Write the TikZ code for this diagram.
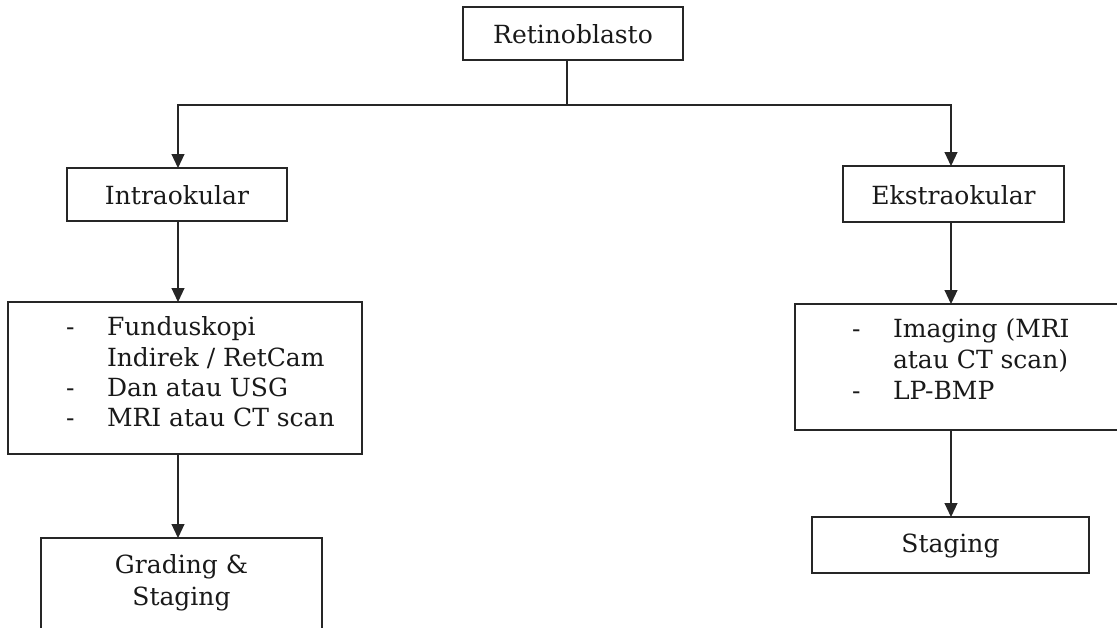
\documentclass[tikz,border=0pt]{standalone}
\usepackage{fontspec}
\setmainfont{DejaVu Serif}
\usetikzlibrary{arrows.meta}
\begin{document}
\begin{tikzpicture}[x=1pt,y=-1pt,
  every node/.style={font=\fontsize{25pt}{30.5pt}\selectfont, inner sep=0pt, outer sep=0pt, text=black!90},
  box/.style={draw=black!85, line width=1.1pt, text height=20pt, text depth=0pt},
  conn/.style={draw=black!85, line width=1.1pt},
  arr/.style={conn, -{Triangle[width=13pt,length=14pt]}}]
\useasboundingbox (0,0) rectangle (1117,627);
\clip (0,0) rectangle (1117,627);
% boxes
\node[box, minimum width=220pt, minimum height=53pt] (ret) at (573,33.5) {Retinoblasto};
\node[box, minimum width=220pt, minimum height=53pt] (intra) at (177,194.5) {Intraokular};
\node[box, minimum width=221pt, minimum height=56pt] (ekstra) at (953.5,194) {Ekstraokular};
\node[box, minimum width=354pt, minimum height=152pt] (list1) at (185,378) {};
\node[box, minimum width=345pt, minimum height=126pt] (list2) at (967.5,367) {};
\node[box, minimum width=281pt, minimum height=162pt] (grad) at (181.5,619) {};
\node[box, minimum width=277pt, minimum height=56pt, text height=15pt] (stag) at (950.5,545) {Staging};
% list texts left
\node[anchor=base west] (d1) at (66,335) {-};
\node[anchor=base west] (t1) at (107,335) {Funduskopi};
\node[anchor=base west] (t2) at (107,366) {Indirek / RetCam};
\node[anchor=base west] (d3) at (66,396) {-};
\node[anchor=base west] (t3) at (107,396) {Dan atau USG};
\node[anchor=base west] (d4) at (66,426) {-};
\node[anchor=base west] (t4) at (107,426) {MRI atau CT scan};
% list texts right
\node[anchor=base west] (d5) at (852,337) {-};
\node[anchor=base west] (u1) at (893,337) {Imaging (MRI};
\node[anchor=base west] (u2) at (893,368) {atau CT scan)};
\node[anchor=base west] (d6) at (852,399) {-};
\node[anchor=base west] (u3) at (893,399) {LP-BMP};
% grading text
\node[anchor=base] (g1) at (181.5,573) {Grading \&};
\node[anchor=base] (g2) at (181.5,605) {Staging};
% connectors
\coordinate (j) at (567,105);
\coordinate (jl) at (178,105);
\coordinate (jr) at (951,105);
\draw[conn] (ret.south -| j) -- (j);
\draw[arr] (j) -- (jl) -- (jl |- intra.north);
\draw[arr] (j) -- (jr) -- (jr |- ekstra.north);
\draw[arr] (intra.south -| jl) -- (jl |- list1.north);
\draw[arr] (list1.south -| jl) -- (jl |- grad.north);
\draw[arr] (ekstra.south -| jr) -- (jr |- list2.north);
\draw[arr] (list2.south -| jr) -- (jr |- stag.north);
\end{tikzpicture}
\end{document}
